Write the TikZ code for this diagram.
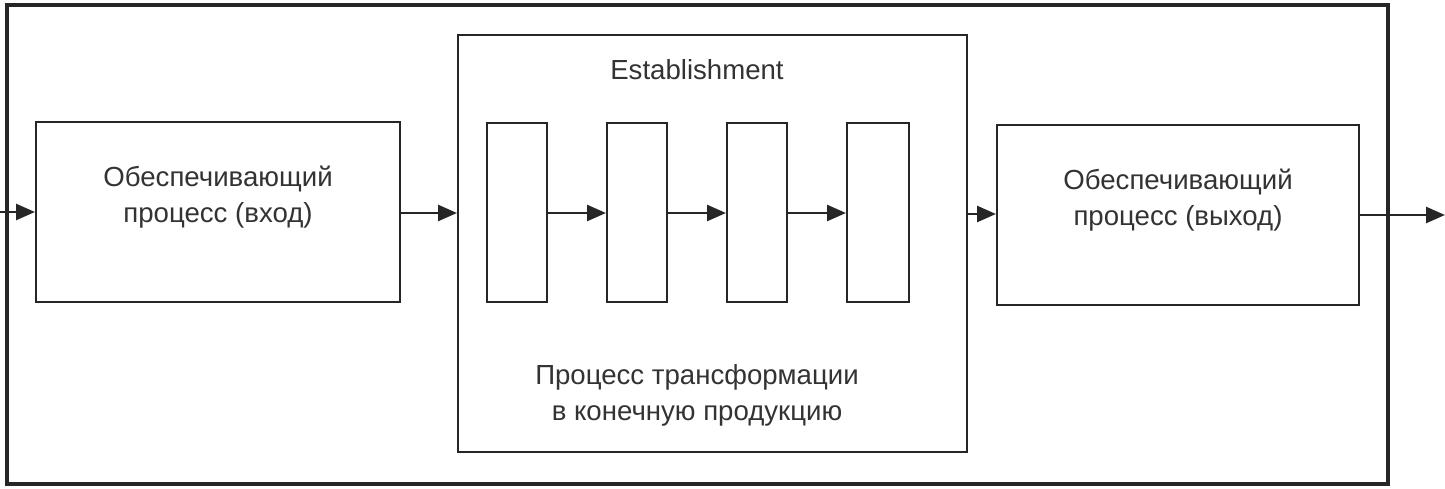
\documentclass[tikz,border=0pt]{standalone}
\usepackage{fontspec}
\setmainfont{Liberation Sans}
\usetikzlibrary{arrows.meta}
\begin{document}
\begin{tikzpicture}[x=0.5pt,y=0.5pt,
  box/.style={draw=black!85,line width=1pt,inner sep=0pt},
  lbl/.style={align=center,font=\fontsize{13.8}{18}\selectfont,text=black!80},
  arr/.style={draw=black!85,line width=1.3pt,-{Triangle[length=9.5pt,width=8pt]}}]
\useasboundingbox (0,0) rectangle (1445,488);
\draw[draw=black!85,line width=1.6pt] (7,4) rectangle (1388,483);
\node[box,minimum width=182pt,minimum height=90pt] (inL) at (218,276) {};
\node[lbl] at (218,291) {Обеспечивающий\\процесс (вход)};
\node[box,minimum width=254.5pt,minimum height=208.5pt] (mid) at (712.5,244.5) {};
\node[lbl] (est) at (697,418) {Establishment};
\node[lbl] (tr) at (697,93) {Процесс трансформации\\в конечную продукцию};
\node[box,minimum width=30pt,minimum height=89.5pt] (s1) at (517,275.5) {};
\node[box,minimum width=30pt,minimum height=89.5pt] (s2) at (637,275.5) {};
\node[box,minimum width=30pt,minimum height=89.5pt] (s3) at (757,275.5) {};
\node[box,minimum width=31pt,minimum height=89.5pt] (s4) at (878,275.5) {};
\node[box,minimum width=181pt,minimum height=90pt] (outR) at (1178,273) {};
\node[lbl] at (1178,288) {Обеспечивающий\\процесс (выход)};
\coordinate (inStart) at (0,276);
\coordinate (outEnd) at (1445,273);
\draw[arr] (inStart) -- (inL.west);
\draw[arr] (inL.east |- 0,275) -- (mid.west |- 0,275);
\draw[arr] (s1.east |- 0,275) -- (s2.west |- 0,275);
\draw[arr] (s2.east |- 0,275) -- (s3.west |- 0,275);
\draw[arr] (s3.east |- 0,275) -- (s4.west |- 0,275);
\draw[arr] (mid.east |- 0,274) -- (outR.west |- 0,274);
\draw[arr] (outR.east) -- (outEnd);
\end{tikzpicture}
\end{document}
